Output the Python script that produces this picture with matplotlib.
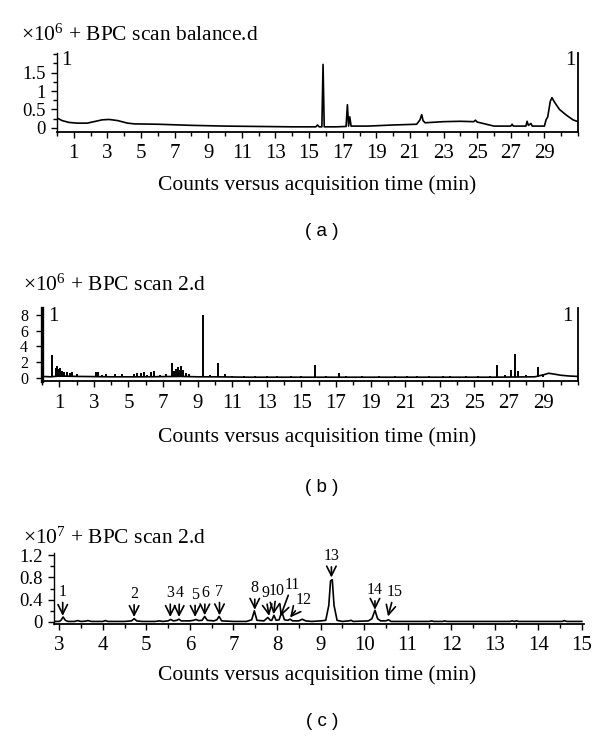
import matplotlib
matplotlib.use("Agg")
import matplotlib.pyplot as plt
from matplotlib.ticker import MultipleLocator

plt.rcParams.update({
    "font.family": ["Liberation Serif", "DejaVu Serif"],
    "mathtext.fontset": "custom",
    "mathtext.rm": "Liberation Serif",
    "font.size": 15,
})

# ---- panel (a): BPC scan balance.d, x10^6 ----
a_trace = [
    (0.0, 0.27), (0.3, 0.2), (0.7, 0.15), (1.2, 0.13), (1.8, 0.13), (2.2, 0.17),
    (2.7, 0.22), (3.1, 0.23), (3.6, 0.2), (4.2, 0.13), (4.6, 0.11), (6.0, 0.1),
    (8.0, 0.07), (10.0, 0.05), (12.0, 0.04), (14.0, 0.03), (15.4, 0.03), (15.5, 0.08),
    (15.6, 0.03), (15.76, 0.03), (15.83, 1.72), (15.9, 0.03), (16.6, 0.03), (17.2, 0.04),
    (17.28, 0.63), (17.35, 0.05), (17.42, 0.3), (17.5, 0.05), (18.5, 0.05), (20.0, 0.08),
    (21.4, 0.1), (21.6, 0.22), (21.7, 0.36), (21.78, 0.2), (21.9, 0.14), (23.0, 0.17),
    (24.0, 0.18), (24.8, 0.17), (24.9, 0.21), (25.0, 0.16), (26.0, 0.05), (27.0, 0.05),
    (27.08, 0.1), (27.15, 0.05), (27.9, 0.05), (27.97, 0.18), (28.05, 0.07), (28.2, 0.12),
    (28.28, 0.05), (29.0, 0.05), (29.1, 0.22), (29.2, 0.3), (29.35, 0.72), (29.45, 0.82),
    (29.6, 0.7), (29.9, 0.5), (30.3, 0.35), (30.7, 0.22), (31.0, 0.17),
]
a_xticks = list(range(1, 30, 2))
a_yticks = [0, 0.5, 1, 1.5]
a_ylabels = ["0", "0.5", "1", "1.5"]

# ---- panel (b): BPC scan 2.d, x10^6 ----
b_base = [
    (0.0, 0.2), (0.5, 0.15), (1.0, 0.25), (2.0, 0.2), (4.0, 0.15), (6.0, 0.15),
    (8.0, 0.2), (9.0, 0.15), (10.0, 0.15), (12.0, 0.1), (16.0, 0.1), (20.0, 0.1),
    (24.0, 0.1), (26.0, 0.1), (28.5, 0.15), (29.0, 0.4), (29.3, 0.6), (29.6, 0.5),
    (30.0, 0.35), (30.5, 0.25), (31.0, 0.2),
]
b_peak_time = [0.6, 0.8, 0.88, 0.95, 1.05, 1.15, 1.3, 1.45, 1.6, 1.75, 2.0, 2.3,
               2.6, 3.1, 3.25, 3.45, 3.7, 4.0, 4.2, 4.6, 4.9, 5.3, 5.5, 5.7, 5.9,
               6.1, 6.3, 6.5, 6.8, 7.2, 7.5, 7.65, 7.75, 7.85, 7.95, 8.05, 8.15,
               8.3, 8.5, 8.8, 9.3, 9.7, 10.2, 10.6, 11.0, 11.7, 12.3, 13.0, 13.6,
               14.4, 15.0, 15.8, 16.4, 17.2, 17.6, 18.5, 19.5, 20.4, 21.1, 21.7,
               22.4, 23.2, 23.6, 24.5, 25.2, 25.9, 26.3, 26.8, 27.1, 27.35, 27.55,
               28.0, 28.7, 29.0]
b_peak_counts = [2.9, 1.3, 1.5, 1.1, 1.3, 0.9, 0.8, 0.7, 0.6, 0.7, 0.5, 0.3,
                 0.3, 0.8, 0.7, 0.4, 0.5, 0.3, 0.5, 0.5, 0.3, 0.5, 0.6, 0.6, 0.7,
                 0.4, 0.8, 0.9, 0.4, 0.5, 1.9, 0.9, 1.1, 1.4, 1.0, 1.5, 1.0,
                 0.6, 0.5, 0.3, 8.0, 0.4, 1.9, 0.5, 0.3, 0.25, 0.2, 0.25, 0.2,
                 0.3, 0.25, 1.7, 0.2, 0.6, 0.3, 0.2, 0.2, 0.2, 0.25, 0.3,
                 0.2, 0.3, 0.3, 0.2, 0.25, 0.3, 1.6, 0.4, 1.0, 3.0, 0.9,
                 0.4, 1.4, 0.5]
b_xticks = list(range(1, 30, 2))
b_yticks = [0, 2, 4, 6, 8]

# ---- panel (c): BPC scan 2.d, x10^7, 3-15 min ----
c_trace = [
    (2.88, 0.01), (3.0, 0.01), (3.04, 0.03), (3.09, 0.09), (3.14, 0.03), (3.2, 0.01),
    (3.35, 0.01), (3.42, 0.025), (3.5, 0.01), (3.6, 0.015), (3.66, 0.025), (3.74, 0.01),
    (4.0, 0.01), (4.06, 0.025), (4.12, 0.01), (4.5, 0.01), (4.66, 0.02), (4.72, 0.06),
    (4.78, 0.02), (4.9, 0.01), (5.2, 0.01), (5.3, 0.02), (5.38, 0.01), (5.5, 0.02),
    (5.56, 0.045), (5.62, 0.02), (5.7, 0.03), (5.75, 0.05), (5.8, 0.02), (6.0, 0.02),
    (6.08, 0.03), (6.14, 0.045), (6.2, 0.025), (6.28, 0.03), (6.34, 0.1), (6.4, 0.03),
    (6.55, 0.02), (6.62, 0.04), (6.67, 0.1), (6.73, 0.02), (7.0, 0.01), (7.3, 0.01),
    (7.42, 0.04), (7.48, 0.2), (7.54, 0.03), (7.7, 0.02), (7.79, 0.08), (7.85, 0.03),
    (7.88, 0.03), (7.93, 0.12), (7.98, 0.03), (8.05, 0.04), (8.11, 0.19), (8.17, 0.04),
    (8.25, 0.03), (8.3, 0.05), (8.36, 0.02), (8.5, 0.02), (8.58, 0.05), (8.66, 0.02),
    (8.8, 0.01), (9.0, 0.02), (9.12, 0.03), (9.19, 0.3), (9.23, 0.74), (9.27, 0.76),
    (9.31, 0.3), (9.38, 0.03), (9.5, 0.01), (9.65, 0.02), (9.7, 0.03), (9.75, 0.01),
    (10.1, 0.02), (10.18, 0.06), (10.25, 0.21), (10.31, 0.06), (10.38, 0.02), (10.5, 0.02),
    (10.56, 0.04), (10.62, 0.01), (11.0, 0.01), (11.5, 0.01), (11.55, 0.02), (11.6, 0.01),
    (11.8, 0.01), (11.85, 0.02), (11.9, 0.01), (12.6, 0.01), (13.35, 0.01), (13.4, 0.02),
    (13.45, 0.01), (13.5, 0.02), (13.55, 0.01), (14.55, 0.01), (14.6, 0.025), (14.65, 0.01),
    (15.0, 0.01),
]
c_num = list(range(1, 16))
c_tip_time = [3.08, 4.72, 5.55, 5.75, 6.12, 6.34, 6.68, 7.49, 7.82, 7.92, 8.08, 8.3, 9.25, 10.25, 10.55]
c_tip_counts = [0.11, 0.09, 0.09, 0.09, 0.09, 0.12, 0.12, 0.22, 0.11, 0.14, 0.1, 0.08, 0.8, 0.22, 0.1]
c_text_time = [3.08, 4.72, 5.55, 5.76, 6.12, 6.35, 6.68, 7.49, 7.73, 7.99, 8.35, 8.62, 9.25, 10.25, 10.7]
c_text_counts = [0.4, 0.36, 0.37, 0.37, 0.35, 0.37, 0.4, 0.46, 0.37, 0.42, 0.53, 0.25, 1.04, 0.43, 0.4]
c_xticks = list(range(3, 16))
c_yticks = [0, 0.4, 0.8, 1.2]
c_ylabels = ["0", "0.4", "0.8", "1.2"]

W, H = 600, 737
fig = plt.figure(figsize=(6, 7.37), dpi=100)


def px_axes(l, r, t, b):
    return fig.add_axes([l / W, 1 - b / H, (r - l) / W, (b - t) / H])


def style(ax, right=True, lw_left=1.0, ysize=14):
    ax.spines["top"].set_visible(False)
    ax.spines["right"].set_visible(right)
    ax.spines["left"].set_linewidth(lw_left)
    ax.spines["bottom"].set_linewidth(1.3)
    ax.spines["right"].set_linewidth(1.3)
    ax.tick_params(direction="out", length=4, width=1)
    ax.tick_params(which="minor", direction="out", length=3, width=1)
    ax.tick_params(axis="x", pad=5, labelsize=15)
    ax.tick_params(axis="y", pad=4, labelsize=ysize)


def pxtext(x, y, s, **kw):
    fig.text(x / W, 1 - y / H, s, **kw)


xlabel = "Counts versus acquisition time (min)"
TFS = 15.5

# (a)
axA = px_axes(57, 578, 53, 132)
t, v = zip(*a_trace)
axA.plot(t, v, color="k", lw=1.2)
axA.set_xlim(0, 31)
axA.set_ylim(-0.11, 2.03)
axA.set_xticks(a_xticks)
axA.xaxis.set_minor_locator(MultipleLocator(1))
axA.set_yticks(a_yticks, a_ylabels)
axA.yaxis.set_minor_locator(MultipleLocator(0.25))
style(axA, ysize=13.5)
axA.text(0.008, 1.02, "1", transform=axA.transAxes, ha="left", va="top")
axA.text(0.995, 1.02, "1", transform=axA.transAxes, ha="right", va="top")
pxtext(21, 35, r"×$\mathregular{10^{6}}$ + BPC scan balance.d", va="center", fontsize=TFS)
pxtext(317, 185, xlabel, ha="center", va="center", fontsize=TFS)
pxtext(322, 232, "( a )", ha="center", va="center", fontsize=13.5, family="Liberation Sans")

# (b)
axB = px_axes(42, 578, 308, 381)
t, v = zip(*b_base)
axB.plot(t, v, color="k", lw=1.2)
axB.vlines(b_peak_time, 0.1, b_peak_counts, color="k", lw=1.4)
axB.set_xlim(0, 31)
axB.set_ylim(-0.38, 8.86)
axB.set_xticks(b_xticks)
axB.xaxis.set_minor_locator(MultipleLocator(1))
axB.set_yticks(b_yticks)
style(axB, lw_left=2.4, ysize=11.5)
axB.tick_params(axis="y", pad=6)
axB.text(0.012, 1.02, "1", transform=axB.transAxes, ha="left", va="top")
axB.text(0.99, 1.02, "1", transform=axB.transAxes, ha="right", va="top")
pxtext(23, 285, r"×$\mathregular{10^{6}}$ + BPC scan 2.d", va="center", fontsize=TFS)
pxtext(317, 437, xlabel, ha="center", va="center", fontsize=TFS)
pxtext(322, 488, "( b )", ha="center", va="center", fontsize=13.5, family="Liberation Sans")

# (c)
axC = px_axes(54, 584, 553, 624)
t, v = zip(*c_trace)
axC.plot(t, v, color="k", lw=1.2)
for n, tx, ty, px, py in zip(c_num, c_tip_time, c_tip_counts, c_text_time, c_text_counts):
    axC.annotate(str(n), xy=(tx, ty), xytext=(px, py), ha="center", va="bottom",
                 fontsize=11.5,
                 arrowprops=dict(arrowstyle="->", color="k", lw=1.2,
                                 shrinkA=0, shrinkB=0, mutation_scale=17))
axC.set_xlim(2.88, 15.05)
axC.set_ylim(-0.036, 1.24)
axC.set_xticks(c_xticks)
axC.xaxis.set_minor_locator(MultipleLocator(0.5))
axC.set_yticks(c_yticks, c_ylabels)
axC.yaxis.set_minor_locator(MultipleLocator(0.2))
style(axC, right=False, ysize=13.5)
pxtext(23, 538, r"×$\mathregular{10^{7}}$ + BPC scan 2.d", va="center", fontsize=TFS)
pxtext(317, 675, xlabel, ha="center", va="center", fontsize=TFS)
pxtext(322, 722, "( c )", ha="center", va="center", fontsize=13.5, family="Liberation Sans")

fig.savefig("out.png", dpi=100)
plt.close(fig)
